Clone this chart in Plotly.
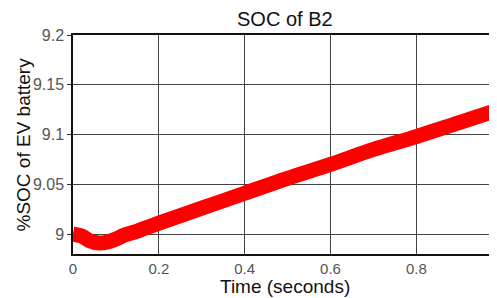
import plotly.graph_objects as go

time_s = [0, 0.02, 0.04, 0.06, 0.08, 0.10, 0.12, 0.15, 0.20, 0.30, 0.40, 0.50, 0.60, 0.70, 0.80, 0.90, 1.00]
soc_b2 = [9.000, 8.998, 8.993, 8.991, 8.992, 8.995, 8.999, 9.003, 9.011, 9.026, 9.041, 9.056, 9.070, 9.085, 9.098, 9.112, 9.126]
x_ticks = [0, 0.2, 0.4, 0.6, 0.8]
x_tick_labels = ["0", "0.2", "0.4", "0.6", "0.8"]
y_ticks = [9, 9.05, 9.1, 9.15, 9.2]
y_tick_labels = ["9", "9.05", "9.1", "9.15", "9.2"]

fig = go.Figure()
fig.add_trace(go.Scatter(x=time_s, y=soc_b2, mode="lines",
                         line=dict(color="#ff0000", width=15, shape="spline"),
                         showlegend=False))

font = "Liberation Sans, Arial, Helvetica, sans-serif"
# page body has an 8px margin, so the figure is sized to fit the 497x298 window
fig.update_layout(
    width=489, height=290,
    margin=dict(l=65, r=0, t=27, b=44, autoexpand=False),
    paper_bgcolor="white", plot_bgcolor="white",
    font=dict(family=font, color="#333"),
    xaxis=dict(range=[0, 0.988], tickvals=x_ticks, ticktext=x_tick_labels,
               showgrid=True, gridcolor="#444", gridwidth=1,
               showline=True, linecolor="#111", linewidth=1.5, mirror=True,
               zeroline=False, ticks="", automargin=False,
               tickfont=dict(size=15, color="#555")),
    yaxis=dict(range=[8.98, 9.2], tickvals=y_ticks, ticktext=y_tick_labels,
               showgrid=True, gridcolor="#444", gridwidth=1,
               showline=True, linecolor="#111", linewidth=1.5, mirror=True,
               zeroline=False, ticks="outside", ticklen=4, tickcolor="#333",
               automargin=False,
               tickfont=dict(size=16, color="#555")),
    annotations=[
        dict(text="SOC of B2", xref="paper", yref="paper", x=0.5, y=1.0,
             xanchor="center", yanchor="bottom", yshift=3, showarrow=False,
             font=dict(size=20, color="#111")),
        dict(text="Time (seconds)", xref="paper", yref="paper", x=0.5, y=0,
             xanchor="center", yanchor="top", yshift=-20, showarrow=False,
             font=dict(size=19, color="#111")),
        dict(text="%SOC of EV battery", xref="paper", yref="paper", x=0, y=0.5,
             xanchor="center", yanchor="middle", xshift=-50, textangle=-90, showarrow=False,
             font=dict(size=19, color="#111")),
    ],
)

fig.write_html("out.html")
